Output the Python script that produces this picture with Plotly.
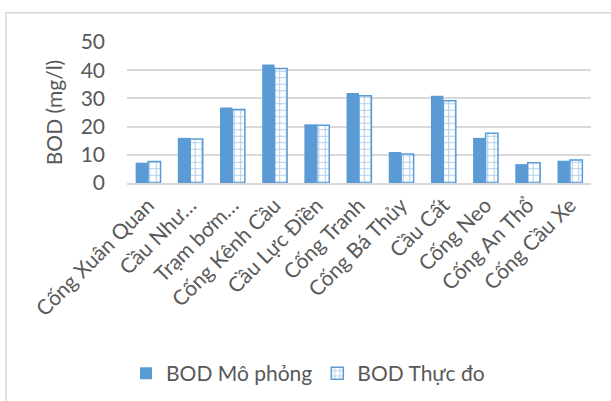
import plotly.graph_objects as go

# Monitoring stations along the canal
stations = [
    "Cống Xuân Quan", "Cầu Như…", "Trạm bơm…", "Cống Kênh Cầu",
    "Cầu Lực Điền", "Cống Tranh", "Cống Bá Thủy", "Cầu Cất",
    "Cống Neo", "Cống An Thổ", "Cống Cầu Xe",
]
# BOD values (mg/l)
bod_simulated = [7.2, 16.0, 26.8, 42.0, 20.8, 31.9, 11.0, 30.9, 16.0, 6.7, 7.9]
bod_measured = [7.6, 15.6, 26.1, 40.6, 20.5, 30.9, 10.3, 29.2, 17.6, 7.2, 8.2]
y_ticks = [0, 10, 20, 30, 40, 50]

BLUE = "#5B9BD5"
TEXT = "#595959"
GRID = "#D9D9D9"
FONT = "Lato"

W, H = 611, 401
ML, MR, MT, MB = 127, 20, 41.5, 217.7
pw, ph = W - ML - MR, H - MT - MB


def px_to_paper_x(x):
    return (x - ML) / pw


def px_to_paper_y(y):
    return (H - MB - y) / ph


fig = go.Figure()
fig.add_trace(go.Bar(
    x=stations, y=bod_simulated, name="BOD Mô phỏng",
    marker=dict(color=BLUE, line=dict(color=BLUE, width=0)),
))
fig.add_trace(go.Bar(
    x=stations, y=bod_measured, name="BOD Thực đo",
    marker=dict(
        color="white",
        line=dict(color=BLUE, width=1.5),
        pattern=dict(shape="+", fgcolor=BLUE, bgcolor="white", size=6.5, solidity=0.3),
    ),
))

# chart-area frame
fig.add_shape(
    type="rect", xref="paper", yref="paper",
    x0=px_to_paper_x(6), x1=px_to_paper_x(W + 20),
    y0=px_to_paper_y(H + 20), y1=px_to_paper_y(12),
    line=dict(color="#D9D9D9", width=1.5), fillcolor="rgba(0,0,0,0)", layer="below",
)

fig.update_layout(
    width=W, height=H,
    margin=dict(l=ML, r=MR, t=MT, b=MB, autoexpand=False),
    paper_bgcolor="white", plot_bgcolor="white",
    barmode="group", bargap=0.41, bargroupgap=0.0,
    font=dict(family=FONT, color=TEXT, size=21),
    xaxis=dict(
        tickangle=-45, tickfont=dict(size=21, color=TEXT),
        showline=True, linecolor=GRID, linewidth=1.5, showgrid=False,
        ticks="", automargin=False,
    ),
    yaxis=dict(
        range=[0, 50], tickvals=y_ticks, tickfont=dict(size=21, color=TEXT),
        showgrid=True, gridcolor=GRID, gridwidth=1.5, zeroline=False,
        ticklabelstandoff=21, automargin=False,
        title=dict(text="BOD (mg/l)", font=dict(size=21, color=TEXT), standoff=12),
    ),
    legend=dict(
        orientation="h", x=px_to_paper_x(126), xanchor="left",
        y=px_to_paper_y(375), yanchor="middle",
        font=dict(size=21, color=TEXT), traceorder="normal",
    ),
)

fig.write_html("out.html")
